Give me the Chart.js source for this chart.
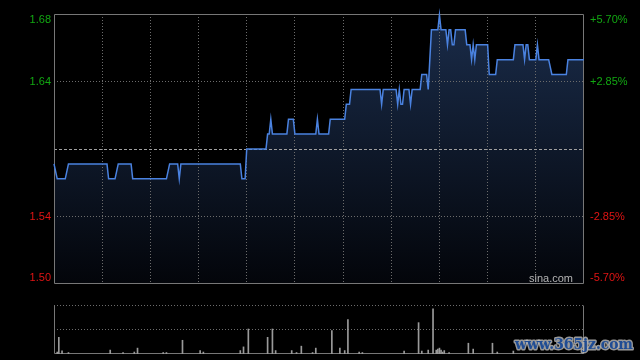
<!DOCTYPE html>
<html>
<head>
<meta charset="utf-8">
<title>Intraday</title>
<script src="https://cdn.jsdelivr.net/npm/chart.js@4.4.1/dist/chart.umd.min.js"></script>
<style>
  html, body { margin: 0; padding: 0; background: #000; }
  #wrap { position: relative; width: 640px; height: 360px; overflow: hidden; }
  #priceChart { position: absolute; left: 0; top: 0; }
  #volChart { position: absolute; left: 0; top: 290px; }
</style>
</head>
<body>
<div id="wrap">
  <canvas id="priceChart" width="640" height="290"></canvas>
  <canvas id="volChart" width="640" height="70"></canvas>
</div>
<script>
// Chart data
const prevClose = 1.59;
const minutes = [0, 2, 7, 9, 33, 34, 38, 40, 48, 49, 70, 72, 77, 78, 79, 116, 117, 119, 120, 132,
    133, 134, 135, 136, 145, 146, 149, 150, 163, 164, 165, 171, 172, 181, 182, 184, 185, 203, 204, 205,
    213, 214, 215, 216, 217, 218, 221, 222, 223, 228, 229, 232, 233, 234, 235, 239, 240, 241, 244, 245,
    246, 247, 248, 249, 250, 256, 257, 259, 260, 261, 262, 263, 270, 271, 275, 276, 286, 287, 292, 293,
    294, 295, 296, 300, 301, 302, 308, 310, 319, 320, 330];
const prices = [1.58, 1.57, 1.57, 1.58, 1.58, 1.57, 1.57, 1.58, 1.58, 1.57, 1.57, 1.58, 1.58, 1.57, 1.58, 1.58, 1.57, 1.57, 1.59, 1.59,
    1.60, 1.60, 1.61, 1.60, 1.60, 1.61, 1.61, 1.60, 1.60, 1.61, 1.60, 1.60, 1.61, 1.61, 1.62, 1.62, 1.63, 1.63, 1.62, 1.63,
    1.63, 1.62, 1.63, 1.62, 1.62, 1.63, 1.63, 1.62, 1.63, 1.63, 1.64, 1.64, 1.63, 1.65, 1.67, 1.67, 1.68, 1.67, 1.67, 1.66,
    1.67, 1.67, 1.66, 1.66, 1.67, 1.67, 1.66, 1.66, 1.65, 1.66, 1.65, 1.66, 1.66, 1.64, 1.64, 1.65, 1.65, 1.66, 1.66, 1.65,
    1.66, 1.66, 1.65, 1.65, 1.66, 1.65, 1.65, 1.64, 1.64, 1.65, 1.65];
const volMinutes = [2, 3, 5, 9, 35, 43, 50, 52, 68, 70, 80, 91, 93, 116, 118, 121, 133, 136, 138, 148,
    151, 154, 161, 163, 173, 178, 181, 183, 190, 192, 218, 227, 229, 233, 236, 238, 239, 240, 241, 242,
    243, 246, 258, 261, 273, 276, 286];
const volumes = [40, 340, 65, 30, 80, 30, 40, 120, 30, 30, 280, 70, 40, 70, 145, 510, 340, 510, 70, 70,
    30, 160, 30, 120, 480, 120, 70, 700, 40, 30, 60, 640, 60, 80, 920, 80, 100, 120, 80, 40,
    70, 30, 220, 100, 220, 40, 60];
const pctTicks = [-5.70, -2.85, 0, 2.85, 5.70];
const priceLabels = ['1.50', '1.54', '', '1.64', '1.68'];
const pctLabels = ['-5.70%', '-2.85%', '', '+2.85%', '+5.70%'];
const timeGrid = [30, 60, 90, 120, 150, 180, 210, 240, 270, 300];
const volTicks = [500, 1000];

const gridColor = '#6c6c6c';
const frameColor = '#777777';
const upColor = '#12a812';
const downColor = '#e01414';
const labelFont = '11px "Liberation Sans", Arial, sans-serif';

const priceMin = prevClose * (1 + pctTicks[0] / 100);
const priceMax = prevClose * (1 + pctTicks[pctTicks.length - 1] / 100);

// grid on top of the fill, then the frame, before the line itself
const frame = {
    id: 'frame',
    beforeDatasetsDraw(chart, args, opts) {
        const {ctx, chartArea: a} = chart;
        if (opts.regrid) {
            chart.scales.x.drawGrid(a);
            chart.scales.y.drawGrid(a);
        }
        ctx.save();
        ctx.strokeStyle = frameColor;
        ctx.lineWidth = 1;
        ctx.beginPath();
        const l = Math.round(a.left) + 0.5, r = Math.round(a.right) - 0.5;
        const t = Math.round(a.top) + 0.5, b = Math.round(a.bottom) - 0.5;
        if (opts.top) { ctx.moveTo(l, t); ctx.lineTo(r, t); }
        ctx.moveTo(l, t); ctx.lineTo(l, b); ctx.lineTo(r, b); ctx.lineTo(r, t);
        ctx.stroke();
        ctx.restore();
    }
};

// price / percent labels on both sides
const axisLabels = {
    id: 'axisLabels',
    afterDraw(chart) {
        const {ctx, chartArea: a, scales: {y}} = chart;
        ctx.save();
        ctx.font = labelFont;
        ctx.textBaseline = 'middle';
        pctTicks.forEach((p, i) => {
            if (!priceLabels[i]) return;
            let py = y.getPixelForValue(prevClose * (1 + p / 100));
            if (i === 0) py -= 6;
            if (i === pctTicks.length - 1) py += 6;
            ctx.fillStyle = p > 0 ? upColor : downColor;
            ctx.textAlign = 'right';
            ctx.fillText(priceLabels[i], a.left - 3, py);
            ctx.textAlign = 'left';
            ctx.fillText(pctLabels[i], a.right + 6, py);
        });
        ctx.fillStyle = '#b4b4b4';
        ctx.textAlign = 'right';
        ctx.fillText('sina.com', a.right - 11, a.bottom - 5);
        ctx.restore();
    }
};

// Price Chart
new Chart(document.getElementById('priceChart'), {
    type: 'line',
    data: {
        datasets: [{
            data: minutes.map((m, i) => ({x: m, y: prices[i]})),
            borderColor: '#4a82e0',
            borderWidth: 1.5,
            pointRadius: 0,
            tension: 0,
            fill: 'start',
            clip: 6,
            backgroundColor: (c) => {
                const a = c.chart.chartArea;
                if (!a) return 'rgba(0,0,0,0)';
                const g = c.chart.ctx.createLinearGradient(0, a.top, 0, a.bottom);
                g.addColorStop(0, '#1a2c4a');
                g.addColorStop(1, '#03050a');
                return g;
            }
        }]
    },
    options: {
        responsive: false,
        animation: false,
        devicePixelRatio: 1,
        layout: {padding: {top: 14, right: 56, bottom: 6, left: 0}},
        plugins: {
            legend: {display: false},
            tooltip: {enabled: false},
            filler: {drawTime: 'beforeDatasetsDraw'},
            frame: {top: true, regrid: true}
        },
        scales: {
            x: {
                type: 'linear', min: 0, max: 330,
                afterBuildTicks: (s) => { s.ticks = timeGrid.map(v => ({value: v})); },
                afterFit: (s) => { s.height = 0; },
                ticks: {display: false},
                grid: {color: gridColor, drawTicks: false},
                border: {display: false, dash: [1, 2]}
            },
            y: {
                min: priceMin, max: priceMax,
                afterBuildTicks: (s) => { s.ticks = pctTicks.slice(1, -1).map(p => ({value: prevClose * (1 + p / 100)})); },
                afterFit: (s) => { s.width = 54; },
                ticks: {display: false},
                grid: {color: (c) => c.index === 1 ? '#a0a0a0' : gridColor, drawTicks: false},
                border: {display: false, dash: (c) => c.index === 1 ? [3, 2] : [1, 2]}
            }
        }
    },
    plugins: [frame, axisLabels]
});

// watermark
const watermark = {
    id: 'watermark',
    afterDraw(chart) {
        const ctx = chart.ctx;
        ctx.save();
        ctx.font = 'bold 15px "DejaVu Serif", serif';
        ctx.textAlign = 'left';
        ctx.textBaseline = 'middle';
        ctx.lineJoin = 'round';
        ctx.strokeStyle = 'rgba(190,190,190,0.8)';
        ctx.lineWidth = 3;
        ctx.strokeText('www.365jz.com', 515, 55, 118);
        ctx.fillStyle = '#1f4c94';
        ctx.fillText('www.365jz.com', 515, 55, 118);
        ctx.restore();
    }
};

// Volume Chart
new Chart(document.getElementById('volChart'), {
    type: 'bar',
    data: {
        datasets: [{
            data: volMinutes.map((m, i) => ({x: m, y: volumes[i]})),
            backgroundColor: '#9a9a9a',
            barThickness: 1
        }]
    },
    options: {
        responsive: false,
        animation: false,
        devicePixelRatio: 1,
        layout: {padding: {top: 15, right: 56, bottom: 6, left: 0}},
        plugins: {legend: {display: false}, tooltip: {enabled: false}, frame: {top: false, regrid: false}},
        scales: {
            x: {
                type: 'linear', min: 0, max: 330, offset: false,
                afterFit: (s) => { s.height = 0; },
                ticks: {display: false},
                grid: {display: false},
                border: {display: false}
            },
            y: {
                min: 0, max: 1000,
                afterBuildTicks: (s) => { s.ticks = volTicks.map(v => ({value: v})); },
                afterFit: (s) => { s.width = 54; },
                ticks: {display: false},
                grid: {color: gridColor, drawTicks: false},
                border: {display: false, dash: [1, 2]}
            }
        }
    },
    plugins: [frame, watermark]
});
</script>
</body>
</html>
